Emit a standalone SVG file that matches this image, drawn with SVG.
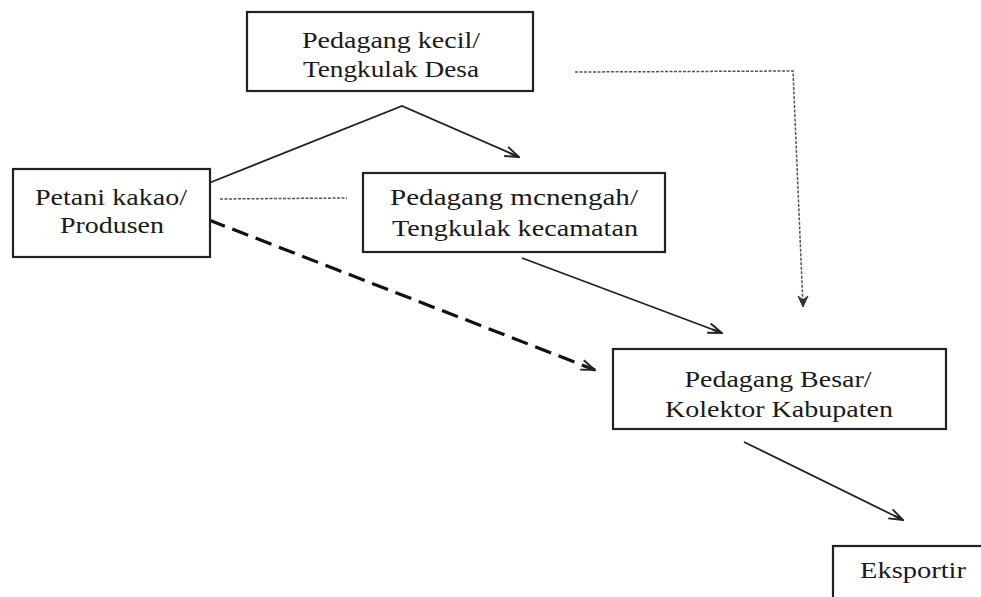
<svg xmlns="http://www.w3.org/2000/svg" width="981" height="597" viewBox="0 0 981 597">
<style>
.box{fill:#fff;stroke:#222;stroke-width:2.2}
.t{font-family:"Liberation Serif","DejaVu Serif",serif;font-size:23px;fill:#1a1a1a;text-anchor:middle}
.c{fill:none;stroke:#222;stroke-width:1.8}
.dash{fill:none;stroke:#111;stroke-width:3.2;stroke-dasharray:17 8}
.dot{fill:none;stroke:#555;stroke-width:1.5;stroke-dasharray:3 1.5}
</style>
<defs>
<marker id="ah" viewBox="0 0 16 12" refX="15" refY="6" markerWidth="16" markerHeight="12" markerUnits="userSpaceOnUse" orient="auto">
<path d="M1,1 L15,6 L1,11 M15,6 L5,6" fill="none" stroke="#222" stroke-width="1.9"/>
</marker>
<marker id="ah2" viewBox="0 0 12 14" refX="6" refY="13" markerWidth="12" markerHeight="14" markerUnits="userSpaceOnUse" orient="0">
<path d="M1,2 L6,13 L11,2 L6,6 Z" fill="#333" stroke="#333" stroke-width="1"/>
</marker>
</defs>
<rect width="981" height="597" fill="#fff"/>
<g id="connectors">
<polyline class="c" points="209,183 402,106 519,157" marker-end="url(#ah)"/>
<line class="dot" x1="220" y1="199" x2="347" y2="198"/>
<line class="dash" x1="209" y1="220" x2="595" y2="370" marker-end="url(#ah)"/>
<line class="c" x1="522" y1="258" x2="722" y2="333" marker-end="url(#ah)"/>
<polyline class="dot" points="575,72 793,71 803,307" marker-end="url(#ah2)"/>
<line class="c" x1="744" y1="442" x2="903" y2="520" marker-end="url(#ah)"/>
</g>
<g id="pedagang-kecil">
<rect class="box" x="247" y="12" width="286" height="79"/>
<text class="t" x="391" y="48" textLength="178" lengthAdjust="spacingAndGlyphs">Pedagang kecil/</text>
<text class="t" x="391" y="77" textLength="176" lengthAdjust="spacingAndGlyphs">Tengkulak Desa</text>
</g>
<g id="petani">
<rect class="box" x="13" y="169" width="197" height="88"/>
<text class="t" x="111" y="205" textLength="152" lengthAdjust="spacingAndGlyphs">Petani kakao/</text>
<text class="t" x="112" y="233" textLength="104" lengthAdjust="spacingAndGlyphs">Produsen</text>
</g>
<g id="pedagang-menengah">
<rect class="box" x="363" y="173" width="302" height="79"/>
<text class="t" x="514" y="205" textLength="248" lengthAdjust="spacingAndGlyphs">Pedagang mcnengah/</text>
<text class="t" x="515" y="236" textLength="246" lengthAdjust="spacingAndGlyphs">Tengkulak kecamatan</text>
</g>
<g id="pedagang-besar">
<rect class="box" x="613" y="349" width="333" height="80"/>
<text class="t" x="778" y="387" textLength="187" lengthAdjust="spacingAndGlyphs">Pedagang Besar/</text>
<text class="t" x="779" y="417" textLength="228" lengthAdjust="spacingAndGlyphs">Kolektor Kabupaten</text>
</g>
<g id="eksportir">
<rect class="box" x="833" y="546" width="160" height="70"/>
<text class="t" x="913" y="578" textLength="106" lengthAdjust="spacingAndGlyphs">Eksportir</text>
</g>
</svg>
